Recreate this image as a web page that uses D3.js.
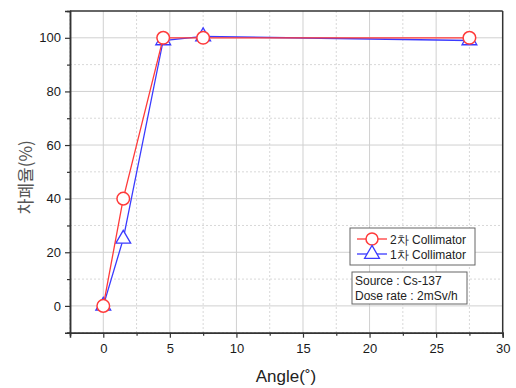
<!DOCTYPE html>
<html>
<head>
<meta charset="utf-8">
<script src="https://cdn.jsdelivr.net/npm/d3@7"></script>
<style>
  body { margin: 0; background: #fff; }
  svg { display: block; font-family: "Liberation Sans", Arial, sans-serif; }
</style>
</head>
<body>
<svg id="chart" width="516" height="388"></svg>
<script>
// data
const angles = [0, 1.5, 4.5, 7.5, 27.5];
const second_collimator = [0, 40, 100, 100, 100];   // 2차
const first_collimator = [0, 25, 99, 100.5, 99];    // 1차
const series_names = ["2차 Collimator", "1차 Collimator"];
const xTicks = [0, 5, 10, 15, 20, 25, 30];
const yTicks = [0, 20, 40, 60, 80, 100];
const info_lines = ["Source : Cs-137", "Dose rate : 2mSv/h"];

const svg = d3.select("#chart");
const plot = {left: 70, right: 502.7, top: 11, bottom: 332.7};

const x = d3.scaleLinear().domain([-2.5, 30]).range([plot.left, plot.right]);
const y = d3.scaleLinear().domain([-10, 110]).range([plot.bottom, plot.top]);

// grid: minor dotted, major solid
const xMinor = d3.range(-2.5, 30, 5);
const yMinor = d3.range(-10, 110, 20);
const grid = svg.append("g");
grid.selectAll(".xm").data(xMinor).join("line")
    .attr("x1", d => x(d)).attr("x2", d => x(d)).attr("y1", plot.top).attr("y2", plot.bottom)
    .attr("stroke", "#d8d8d8").attr("stroke-dasharray", "2,2");
grid.selectAll(".ym").data(yMinor).join("line")
    .attr("x1", plot.left).attr("x2", plot.right).attr("y1", d => y(d)).attr("y2", d => y(d))
    .attr("stroke", "#d8d8d8").attr("stroke-dasharray", "2,2");
grid.selectAll(".xM").data(xTicks.filter(d => d < 30)).join("line")
    .attr("x1", d => x(d)).attr("x2", d => x(d)).attr("y1", plot.top).attr("y2", plot.bottom)
    .attr("stroke", "#d0d0d0");
grid.selectAll(".yM").data(yTicks).join("line")
    .attr("x1", plot.left).attr("x2", plot.right).attr("y1", d => y(d)).attr("y2", d => y(d))
    .attr("stroke", "#d0d0d0");

// axes
const xAxis = svg.append("g").attr("transform", `translate(0,${plot.bottom})`)
    .call(d3.axisBottom(x).tickValues(xTicks).tickSize(5).tickPadding(6));
const xAxisMinor = svg.append("g").attr("transform", `translate(0,${plot.bottom})`)
    .call(d3.axisBottom(x).tickValues(xMinor).tickSize(3).tickFormat(""));
const yAxis = svg.append("g").attr("transform", `translate(${plot.left},0)`)
    .call(d3.axisLeft(y).tickValues(yTicks).tickSize(5).tickPadding(4));
const yAxisMinor = svg.append("g").attr("transform", `translate(${plot.left},0)`)
    .call(d3.axisLeft(y).tickValues(yMinor).tickSize(3).tickFormat(""));

[xAxis, xAxisMinor, yAxis, yAxisMinor].forEach(g => {
    g.select(".domain").attr("stroke", "#333").attr("stroke-width", 1.5);
    g.selectAll(".tick line").attr("stroke", "#333").attr("stroke-width", 1.2);
    g.selectAll("text").attr("font-size", 13).attr("fill", "#1a1a1a")
        .attr("font-family", "Liberation Sans, Arial, sans-serif");
});

// top and right frame
svg.append("line").attr("x1", plot.left).attr("x2", plot.right).attr("y1", plot.top).attr("y2", plot.top)
    .attr("stroke", "#333").attr("stroke-width", 1.5);
svg.append("line").attr("x1", plot.right).attr("x2", plot.right).attr("y1", plot.top).attr("y2", plot.bottom)
    .attr("stroke", "#333").attr("stroke-width", 1.5);

// axis titles
svg.append("text").attr("x", 286).attr("y", 382).attr("text-anchor", "middle")
    .attr("font-size", 17).attr("fill", "#222").text("Angle(˚)");
svg.append("text").attr("transform", `translate(32,${y(48)}) rotate(-90)`)
    .attr("text-anchor", "middle").attr("font-size", 17).attr("fill", "#555")
    .attr("font-family", "Noto Sans CJK KR, sans-serif").text("차폐율(%)");

// series
const line = d3.line().x(d => x(d[0])).y(d => y(d[1]));
const blueData = angles.map((a, i) => [a, first_collimator[i]]);
const redData = angles.map((a, i) => [a, second_collimator[i]]);
const tri = d3.symbol().type(d3.symbolTriangle).size(95);

svg.append("path").datum(blueData).attr("d", line)
    .attr("fill", "none").attr("stroke", "#3a3aff").attr("stroke-width", 1.3);
svg.append("g").selectAll("path").data(blueData).join("path")
    .attr("d", tri).attr("transform", d => `translate(${x(d[0])},${y(d[1])})`)
    .attr("fill", "#fff").attr("stroke", "#3a3aff").attr("stroke-width", 1.3);

svg.append("path").datum(redData).attr("d", line)
    .attr("fill", "none").attr("stroke", "#ff3a3a").attr("stroke-width", 1.3);
svg.append("g").selectAll("circle").data(redData).join("circle")
    .attr("cx", d => x(d[0])).attr("cy", d => y(d[1])).attr("r", 6.3)
    .attr("fill", "#fff").attr("stroke", "#ff3a3a").attr("stroke-width", 1.5);

// legend
const lg = svg.append("g");
lg.append("rect").attr("x", 350).attr("y", 228).attr("width", 125).attr("height", 37)
    .attr("fill", "#fff").attr("stroke", "#666");
const legendItems = [
    {name: series_names[0], color: "#ff3a3a", shape: "circle"},
    {name: series_names[1], color: "#3a3aff", shape: "triangle"}
];
legendItems.forEach((it, i) => {
    const cy = 239 + i * 15;
    lg.append("line").attr("x1", 357).attr("x2", 387).attr("y1", cy).attr("y2", cy)
        .attr("stroke", it.color).attr("stroke-width", 1.3);
    if (it.shape === "circle") {
        lg.append("circle").attr("cx", 372).attr("cy", cy).attr("r", 6)
            .attr("fill", "#fff").attr("stroke", it.color).attr("stroke-width", 1.5);
    } else {
        lg.append("path").attr("d", tri).attr("transform", `translate(372,${cy})`)
            .attr("fill", "#fff").attr("stroke", it.color).attr("stroke-width", 1.3);
    }
    lg.append("text").attr("x", 390).attr("y", cy + 4.5).attr("font-size", 12)
        .attr("fill", "#222").text(it.name);
});

const ib = svg.append("g");
ib.append("rect").attr("x", 352).attr("y", 272).attr("width", 115).attr("height", 32)
    .attr("fill", "#fff").attr("stroke", "#666");
ib.selectAll("text").data(info_lines).join("text")
    .attr("x", 355).attr("y", (d, i) => 285 + i * 15).attr("font-size", 12)
    .attr("fill", "#222").text(d => d);
</script>
</body>
</html>
